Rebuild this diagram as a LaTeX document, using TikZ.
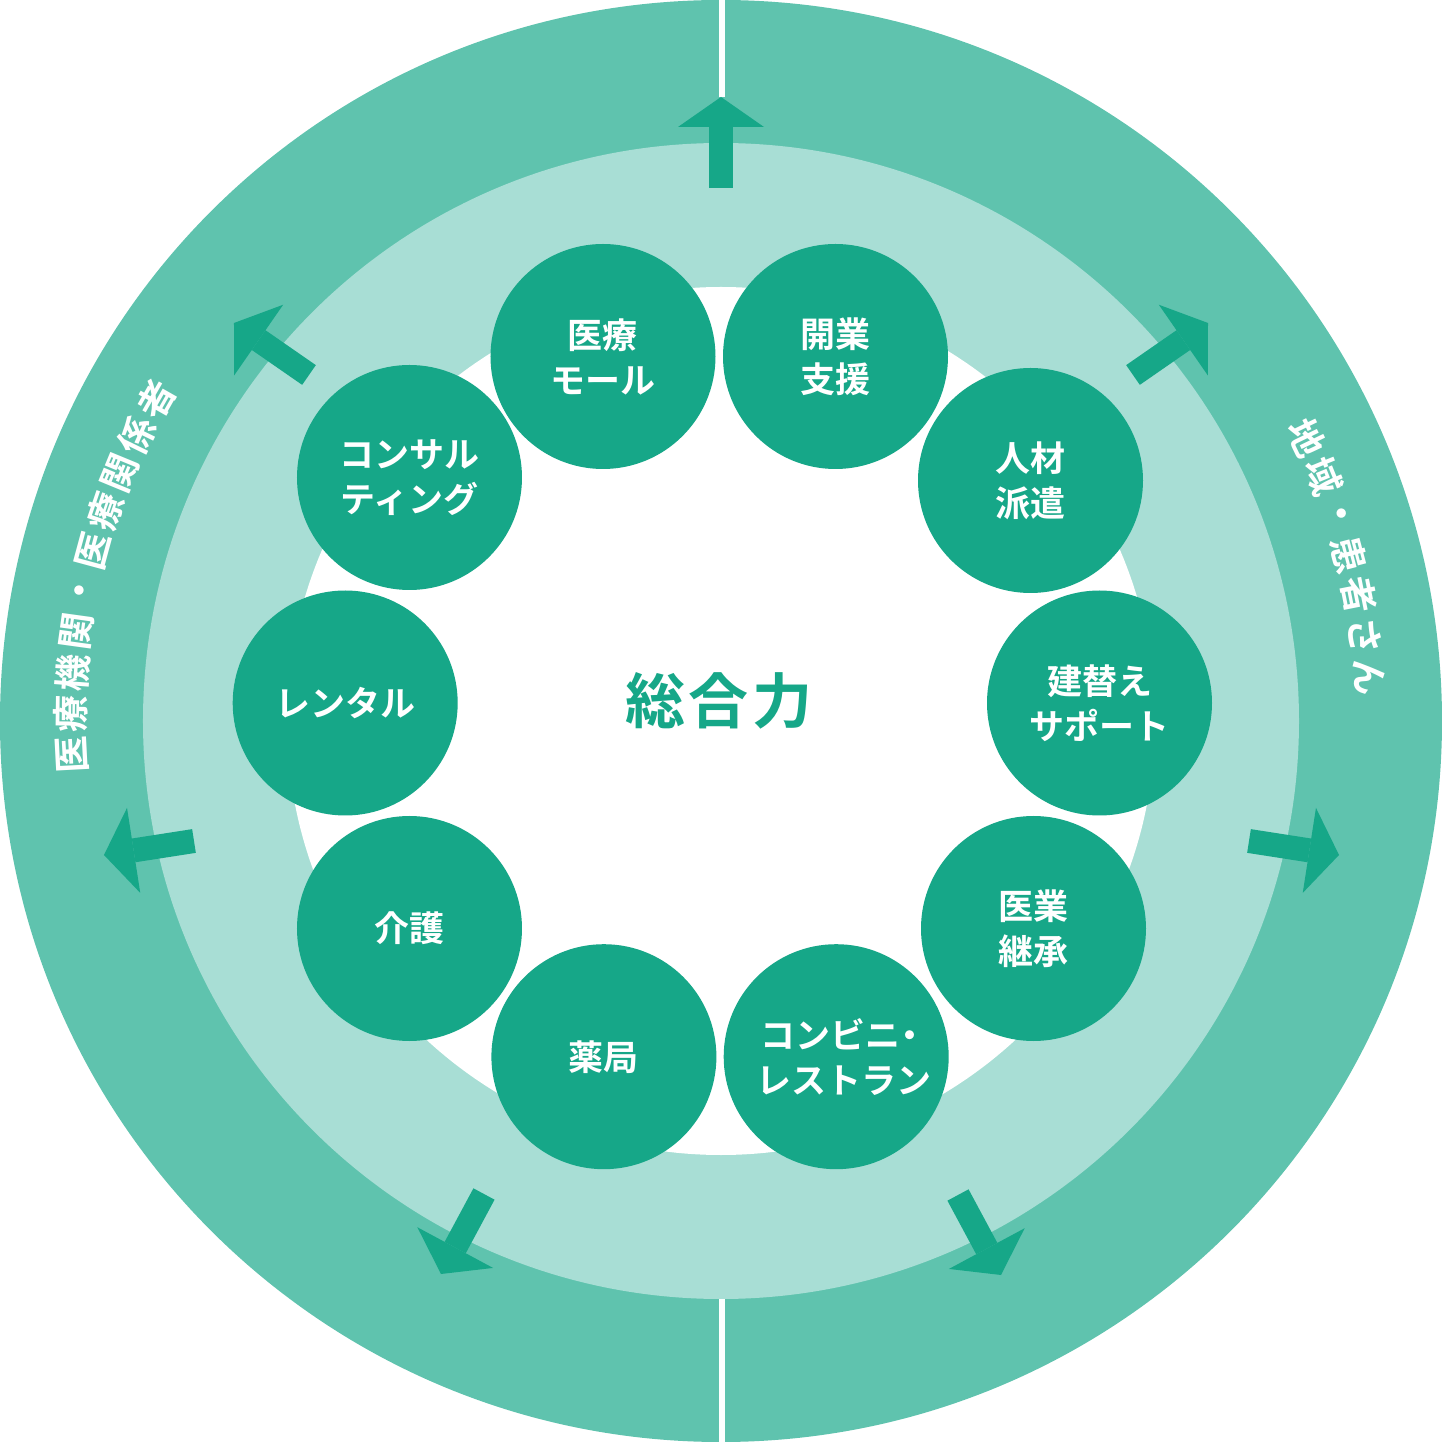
\documentclass[tikz,border=0pt]{standalone}
\usepackage{fontspec}
\newfontfamily\jpfont{Noto Sans CJK JP}[BoldFont={Noto Sans CJK JP Bold}]
\usetikzlibrary{arrows.meta}
\definecolor{ringdark}{HTML}{5FC3AE}
\definecolor{ringlight}{HTML}{A8DED5}
\definecolor{bubblegreen}{HTML}{16A788}
\tikzset{
  bubble/.style={circle, fill=bubblegreen, minimum size=225pt, inner sep=0pt,
    text=white, align=center, font=\jpfont\bfseries\fontsize{35}{45}\selectfont},
  sidetext/.style={text=white, inner sep=0pt, font=\jpfont\bfseries\fontsize{37}{37}\selectfont},
  outarrow/.style={bubblegreen, line width=24pt,
    -{Triangle[width=86pt,length=30pt,line width=0pt]}},
}

\begin{document}
\begin{tikzpicture}[x=1pt,y=1pt]
\useasboundingbox (-721,-721) rectangle (721,721);
\fill [ringdark] (0,0) circle (721);
\fill [ringlight] (0,0) circle (578);
\fill [white] (0,0) circle (434);
\draw [white, line width=6pt] (1.3,624) -- (1.3,721);
\draw [white, line width=6pt] (1.3,-578) -- (1.3,-721);
\coordinate (topA) at (0,533);
\coordinate (topB) at (0,624);
\coordinate (nwA) at (-412,346);
\coordinate (nwB) at (-487,398);
\coordinate (neA) at (412,346);
\coordinate (neB) at (487,398);
\coordinate (wA) at (-527,-120);
\coordinate (wB) at (-617,-134);
\coordinate (eA) at (528,-120);
\coordinate (eB) at (618,-134);
\coordinate (swA) at (-237,-473);
\coordinate (swB) at (-280,-553);
\coordinate (seA) at (237,-474);
\coordinate (seB) at (280,-554);
\draw [outarrow] (topA) -- (topB);
\draw [outarrow] (nwA) -- (nwB);
\draw [outarrow] (neA) -- (neB);
\draw [outarrow] (wA) -- (wB);
\draw [outarrow] (eA) -- (eB);
\draw [outarrow] (swA) -- (swB);
\draw [outarrow] (seA) -- (seB);
\node [bubble] (mall) at (-118,364.5) {医療\\モール};
\node [bubble] (kaigyo) at (114.5,364.5) {開業\\支援};
\node [bubble] (jinzai) at (309.5,240.5) {人材\\派遣};
\node [bubble] (tatekae) at (378.5,18) {建替え\\サポート};
\node [bubble] (keisho) at (312.5,-207.5) {医業\\継承};
\node [bubble] (konbini) at (115.2,-335.7) {\hspace*{16pt}コンビニ\kern-8pt・\\\hspace*{16pt}レストラン};
\node [bubble] (yakkyoku) at (-117.1,-335.7) {薬局};
\node [bubble] (kaigo) at (-311.5,-207.5) {介護};
\node [bubble] (rental) at (-375.8,18) {レンタル};
\node [bubble] (consul) at (-311.5,243.5) {コンサル\\ティング};
\node [text=bubblegreen, font=\jpfont\bfseries\fontsize{60}{60}\selectfont] (sogo) at (-2,20) {総\kern3pt 合\kern3pt 力};
\foreach \ch [count=\i from 0] in {医,療,機,関,・,医,療,関,係,者}
  \node [sidetext, rotate={93-\i*3.63}] (west\i) at ({183-\i*3.63}:650) {\ch};
\foreach \ch [count=\i from 0] in {地,域,・,患,者,さ,ん}
  \node [sidetext, rotate={-64.2-\i*3.65}] (east\i) at ({25.8-\i*3.65}:650) {\ch};
\end{tikzpicture}
\end{document}
